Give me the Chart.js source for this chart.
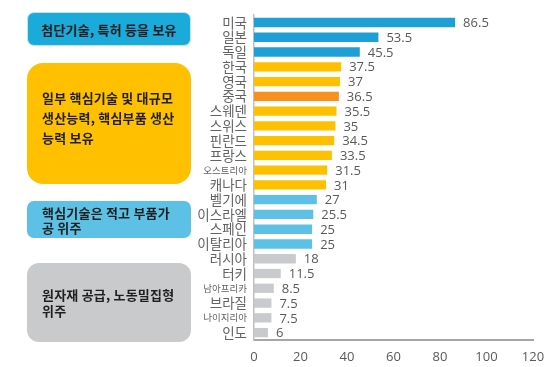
<!DOCTYPE html>
<html><head><meta charset="utf-8">
<script src="https://cdn.jsdelivr.net/npm/chart.js@4/dist/chart.umd.min.js"></script>
<style>
html,body{margin:0;padding:0;background:#fff;}
#wrap{position:relative;width:554px;height:367px;}
#c{position:absolute;left:0;top:0;}
.box{position:absolute;left:27px;width:164px;border-radius:11px;box-sizing:border-box;
 font-family:"Noto Sans CJK KR","Noto Sans",sans-serif;font-size:13px;font-weight:600;color:#1f1f1f;letter-spacing:0.2px;
 display:flex;align-items:center;padding-left:15px;padding-right:4px;white-space:nowrap;}
</style></head>
<body><div id="wrap"><canvas id="c" width="554" height="367"></canvas>
<div class="box" style="top:12px;height:34px;background:#1BABDB;border:1px solid #bfe4f3;border-radius:7px;justify-content:center;padding-left:4px;">첨단기술, 특허 등을 보유</div>
<div class="box" style="top:63px;height:121px;background:#FFC000;border-radius:16px;line-height:20px;padding-bottom:12px;">일부 핵심기술 및 대규모<br>생산능력, 핵심부품 생산<br>능력 보유</div>
<div class="box" style="top:201px;height:37px;background:#5CC1E4;border-radius:7px;line-height:15px;">핵심기술은 적고 부품가<br>공 위주</div>
<div class="box" style="top:263px;height:79px;background:#C9CACC;border-radius:12px;line-height:16px;">원자재 공급, 노동밀집형<br>위주</div>
</div>
<script>
const countries = ['미국','일본','독일','한국','영국','중국','스웨덴','스위스','핀란드','프랑스','오스트리아','캐나다','벨기에','이스라엘','스페인','이탈리아','러시아','터키','남아프리카','브라질','나이지리아','인도'];
const values = [86.5,53.5,45.5,37.5,37,36.5,35.5,35,34.5,33.5,31.5,31,27,25.5,25,25,18,11.5,8.5,7.5,7.5,6];
const tiers = [1,1,1,2,2,2,2,2,2,2,2,2,3,3,3,3,4,4,4,4,4,4];
const highlight = '중국';
const xTicks = [0,20,40,60,80,100,120];

const tierColors = {1:'#1E9FD6',2:'#FFC000',3:'#5CC1E4',4:'#C9CACD'};
const barColors = countries.map((c,i)=> c===highlight ? '#F7901E' : tierColors[tiers[i]]);
const smallLabels = new Set(['오스트리아','남아프리카','나이지리아']);

const valueLabels = {
  id:'valueLabels',
  afterDatasetsDraw(chart){
    const ctx = chart.ctx;
    const meta = chart.getDatasetMeta(0);
    ctx.save();
    ctx.font = '13px "Open Sans","Noto Sans",sans-serif';
    ctx.fillStyle = '#595959';
    ctx.textAlign = 'left';
    ctx.textBaseline = 'middle';
    meta.data.forEach((bar,i)=>{
      ctx.fillText(String(values[i]), bar.x + 8, bar.y + 1);
    });
    ctx.restore();
  }
};

new Chart(document.getElementById('c'), {
  type:'bar',
  data:{labels:countries,datasets:[{data:values,backgroundColor:barColors,borderWidth:0,barPercentage:0.9,categoryPercentage:0.7}]},
  options:{
    indexAxis:'y',
    responsive:false,
    animation:false,
    layout:{padding:{top:3,right:21,bottom:0,left:0}},
    plugins:{legend:{display:false},tooltip:{enabled:false}},
    scales:{
      x:{min:0,max:120,
        afterBuildTicks(s){ s.ticks = xTicks.map(v=>({value:v})); },
        afterFit(s){ s.height = 27; },
        grid:{display:false,drawTicks:false},
        border:{display:true,color:'#A6A6A6',width:2},
        ticks:{padding:9,color:'#595959',font:{size:13,family:'"Open Sans","Noto Sans",sans-serif'},maxRotation:0}
      },
      y:{
        afterFit(s){ s.width = 254; },
        grid:{display:false,drawTicks:false},
        border:{display:true,color:'#BFBFBF',width:1.5},
        ticks:{padding:7,color:'#636363',autoSkip:false,
          font:(ctx)=>({size: smallLabels.has(countries[ctx.index]) ? 9.5 : 13.5, family:'"Noto Sans CJK KR",sans-serif'})}
      }
    }
  },
  plugins:[valueLabels]
});
</script></body></html>
